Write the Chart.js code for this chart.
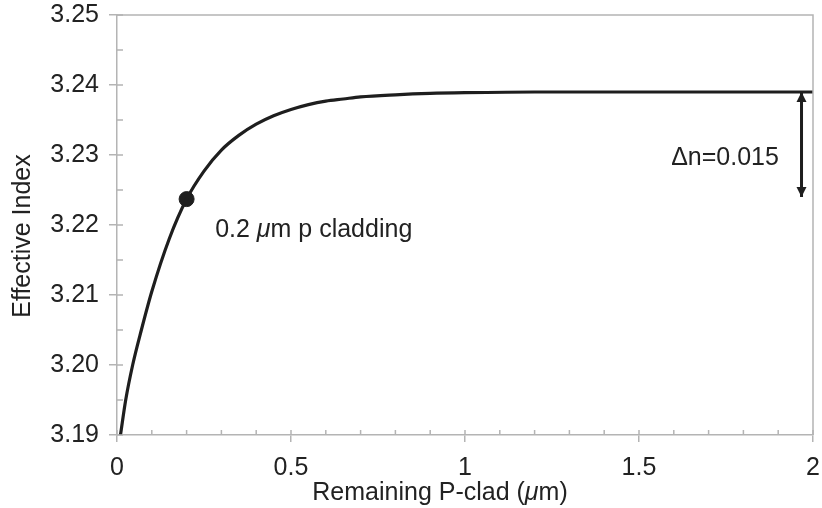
<!DOCTYPE html>
<html>
<head>
<meta charset="utf-8">
<script src="https://cdn.jsdelivr.net/npm/chart.js@4.4.1/dist/chart.umd.min.js"></script>
<style>
  html, body { margin: 0; padding: 0; background: #fff; }
  #wrap { width: 822px; height: 508px; }
</style>
</head>
<body>
<div id="wrap"><canvas id="indexChart" width="822" height="508"></canvas></div>
<script>
// Courbe indice effectif en fonction de la gaine P restante
const pcladThickness = [0.01, 0.025, 0.045, 0.07, 0.1, 0.15, 0.2, 0.25, 0.3, 0.35, 0.4, 0.45, 0.5, 0.55, 0.6, 0.65, 0.7, 0.8, 0.9, 1.0, 1.2, 1.5, 2.0];
const effectiveIndex = [3.1900, 3.1950, 3.2000, 3.2050, 3.2105, 3.2180, 3.2237, 3.2277, 3.2307, 3.2328, 3.2344, 3.2356, 3.2365, 3.2372, 3.2377, 3.2380, 3.2383, 3.2386, 3.2388, 3.2389, 3.2390, 3.2390, 3.2390];

// Point marqué à 0.2 µm
const markerX = [0.2];
const markerY = [3.2237];

// Flèche Δn
const deltaX = [1.967, 1.967];
const deltaY = [3.239, 3.224];

const xTickLabels = ['0', '0.5', '1', '1.5', '2'];
const yTickLabels = ['3.19', '3.20', '3.21', '3.22', '3.23', '3.24', '3.25'];

const notes = ['0.2 μm p cladding', 'Δn=0.015'];
const axisTitles = ['Remaining P-clad (μm)', 'Effective Index'];

const AXIS_GREY = '#b4b4b4';
const INK = '#1e1e1e';
const TEXT = '#222';
const FONT = "'Liberation Sans', Arial, sans-serif";

function labelFor(list, value) {
    const found = list.find(l => Math.abs(parseFloat(l) - value) < 1e-6);
    return found === undefined ? '' : found;
}

// Petits traits vers l'intérieur, cadre haut/droite, têtes de flèche et textes
const decorations = {
    id: 'decorations',
    afterDatasetsDraw(chart) {
        const { ctx, chartArea: a, scales: { x, y } } = chart;
        ctx.save();
        ctx.strokeStyle = AXIS_GREY;
        ctx.lineWidth = 1.5;
        ctx.beginPath();
        ctx.moveTo(a.left, a.top);
        ctx.lineTo(a.right, a.top);
        ctx.lineTo(a.right, a.bottom);
        ctx.stroke();

        ctx.beginPath();
        x.ticks.forEach(t => {
            const px = x.getPixelForValue(t.value);
            ctx.moveTo(px, a.bottom);
            ctx.lineTo(px, a.bottom - 5);
        });
        y.ticks.forEach(t => {
            const py = y.getPixelForValue(t.value);
            ctx.moveTo(a.left, py);
            ctx.lineTo(a.left + 6, py);
        });
        ctx.stroke();

        // têtes de flèche
        const arrow = chart.getDatasetMeta(2).data;
        ctx.fillStyle = INK;
        const head = (p, dir) => {
            ctx.beginPath();
            ctx.moveTo(p.x, p.y);
            ctx.lineTo(p.x - 5, p.y + dir * 10);
            ctx.lineTo(p.x + 5, p.y + dir * 10);
            ctx.closePath();
            ctx.fill();
        };
        head(arrow[0], 1);
        head(arrow[1], -1);

        // annotations
        ctx.fillStyle = TEXT;
        ctx.textBaseline = 'middle';
        drawMixed(ctx, notes[0], x.getPixelForValue(0.282), y.getPixelForValue(3.2193), 'left');
        ctx.font = '25px ' + FONT;
        ctx.textAlign = 'right';
        ctx.fillText(notes[1], x.getPixelForValue(1.902), y.getPixelForValue(3.2296));

        // titre de l'axe x
        ctx.textBaseline = 'alphabetic';
        drawMixed(ctx, axisTitles[0], (a.left + a.right) / 2 - 25, a.bottom + 65, 'center');

        // titre de l'axe y
        ctx.translate(23, (a.top + a.bottom) / 2 + 11);
        ctx.rotate(-Math.PI / 2);
        ctx.font = '25px ' + FONT;
        ctx.textAlign = 'center';
        ctx.textBaseline = 'middle';
        ctx.fillText(axisTitles[1], 0, 0);
        ctx.restore();
    }
};

// Texte avec le µ en italique
function drawMixed(ctx, text, px, py, align) {
    const parts = text.split('μ');
    const normal = '25px ' + FONT;
    const italic = 'italic 25px ' + FONT;
    ctx.textAlign = 'left';
    ctx.font = normal;
    const w0 = ctx.measureText(parts[0]).width;
    const w2 = ctx.measureText(parts[1]).width;
    ctx.font = italic;
    const w1 = ctx.measureText('μ').width;
    const total = w0 + w1 + w2;
    let sx = align === 'center' ? px - total / 2 : px;
    ctx.font = normal;
    ctx.fillText(parts[0], sx, py);
    ctx.font = italic;
    ctx.fillText('μ', sx + w0, py);
    ctx.font = normal;
    ctx.fillText(parts[1], sx + w0 + w1, py);
}

new Chart(document.getElementById('indexChart'), {
    type: 'line',
    data: {
        datasets: [
            {
                data: pcladThickness.map((v, i) => ({ x: v, y: effectiveIndex[i] })),
                borderColor: INK,
                borderWidth: 3.2,
                pointRadius: 0,
                cubicInterpolationMode: 'monotone',
                fill: false
            },
            {
                type: 'scatter',
                data: markerX.map((v, i) => ({ x: v, y: markerY[i] })),
                pointRadius: 7.5,
                backgroundColor: INK,
                borderColor: INK
            },
            {
                data: deltaX.map((v, i) => ({ x: v, y: deltaY[i] })),
                borderColor: INK,
                borderWidth: 3,
                pointRadius: 0,
                fill: false
            }
        ]
    },
    options: {
        responsive: false,
        animation: false,
        devicePixelRatio: 1,
        layout: { padding: { top: 15, right: 9, bottom: 0, left: 0 } },
        plugins: {
            legend: { display: false },
            tooltip: { enabled: false }
        },
        scales: {
            x: {
                type: 'linear',
                min: 0,
                max: 2,
                afterFit: s => { s.height = 73; s.paddingLeft = 0; s.paddingRight = 0; },
                ticks: {
                    stepSize: 0.1,
                    autoSkip: false,
                    maxRotation: 0,
                    padding: 11,
                    color: TEXT,
                    font: { family: FONT, size: 25 },
                    callback: v => labelFor(xTickLabels, v)
                },
                grid: {
                    drawOnChartArea: false,
                    tickLength: 7,
                    lineWidth: 1.5,
                    color: c => (c.tick && labelFor(xTickLabels, c.tick.value) !== '') ? AXIS_GREY : 'rgba(0,0,0,0)'
                },
                border: { display: true, color: AXIS_GREY, width: 1.5 }
            },
            y: {
                min: 3.19,
                max: 3.25,
                afterFit: s => { s.width = 117; s.paddingTop = 0; s.paddingBottom = 0; },
                ticks: {
                    stepSize: 0.005,
                    autoSkip: false,
                    padding: 10,
                    color: TEXT,
                    font: { family: FONT, size: 25 },
                    callback: v => labelFor(yTickLabels, v)
                },
                grid: {
                    drawOnChartArea: false,
                    tickLength: 8,
                    lineWidth: 1.5,
                    color: c => (c.tick && labelFor(yTickLabels, c.tick.value) !== '') ? AXIS_GREY : 'rgba(0,0,0,0)'
                },
                border: { display: true, color: AXIS_GREY, width: 1.5 }
            }
        }
    },
    plugins: [decorations]
});
</script>
</body>
</html>
